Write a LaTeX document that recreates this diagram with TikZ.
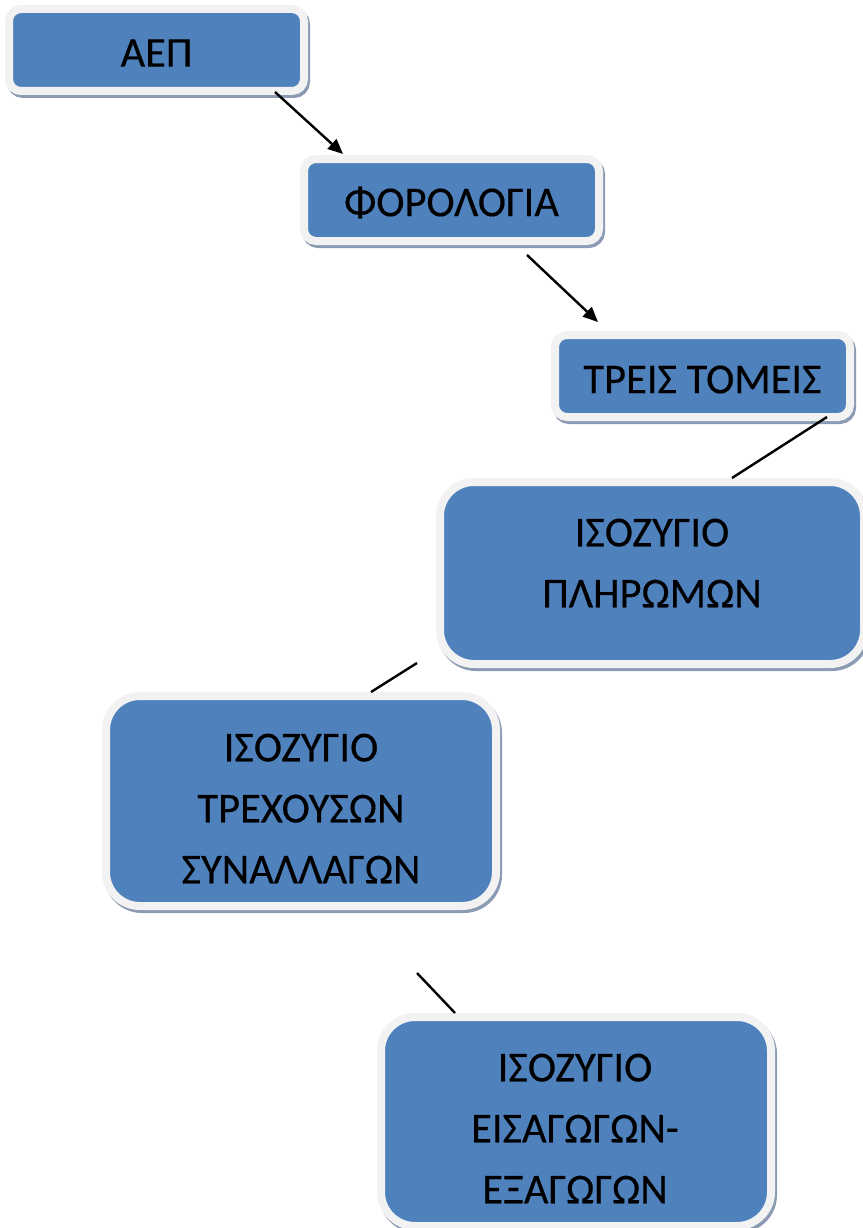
\documentclass[tikz,border=0pt]{standalone}
\usepackage{fontspec}
\setmainfont{Carlito}[FakeBold=0.35]
\usetikzlibrary{arrows.meta}
\definecolor{boxblue}{HTML}{4F81BD}
\definecolor{rimgray}{HTML}{F2F2F2}
\definecolor{shadowc}{HTML}{8C9BB4}
\tikzset{
  boxbase/.style={rectangle, draw=rimgray, fill=boxblue, line width=8pt, inner sep=0pt,
    preaction={draw=shadowc, fill=shadowc, transform canvas={shift={(2pt,-3pt)}}}},
  smallbox/.style={boxbase, rounded corners=12pt, minimum width=295pt, minimum height=82pt},
  bigbox/.style={boxbase, rounded corners=34pt},
  label/.style={font=\fontsize{42.5}{61}\selectfont, align=center, inner sep=0pt, text=black},
  conn/.style={line width=2.4pt, draw=black},
  arrowconn/.style={conn, -{Triangle[length=15pt,width=13pt]}}
}
\begin{document}
\begin{tikzpicture}[x=1pt,y=-1pt]
\useasboundingbox (0,0) rectangle (862,1228);
\fill[white] (0,0) rectangle (862,1228);
% boxes
\node[smallbox] (b1) at (156.5,50) {};
\node[smallbox] (b2) at (451.5,200) {};
\node[smallbox] (b3) at (702.5,376) {};
\node[bigbox, minimum width=424pt, minimum height=182pt] (b4) at (652,573) {};
\node[bigbox, minimum width=390pt, minimum height=210pt] (b5) at (301,801) {};
\node[bigbox, minimum width=390pt, minimum height=209pt] (b6) at (576,1121.5) {};
% texts
\node[label] (t1) at (156.5,53) {ΑΕΠ};
\node[label] (t2) at (451.5,202.5) {ΦΟΡΟΛΟΓΙΑ};
\node[label] (t3) at (702.5,379.5) {ΤΡΕΙΣ ΤΟΜΕΙΣ};
\node[label] (t4) at (652,563) {ΙΣΟΖΥΓΙΟ\\ΠΛΗΡΩΜΩΝ};
\node[label] (t5) at (301,808.5) {ΙΣΟΖΥΓΙΟ\\ΤΡΕΧΟΥΣΩΝ\\ΣΥΝΑΛΛΑΓΩΝ};
\node[label] (t6) at (575,1128.5) {ΙΣΟΖΥΓΙΟ\\ΕΙΣΑΓΩΓΩΝ-\\ΕΞΑΓΩΓΩΝ};
% connector end points
\coordinate (a1s) at (275,92);
\coordinate (a1e) at (343,154);
\coordinate (a2s) at (527,255);
\coordinate (a2e) at (598,322);
\coordinate (l3s) at (827,417);
\coordinate (l3e) at (732,478);
\coordinate (l4s) at (417,663);
\coordinate (l4e) at (371,692);
\coordinate (l5s) at (417,973);
\coordinate (l5e) at (455,1013);
\draw[arrowconn] (a1s) -- (a1e);
\draw[arrowconn] (a2s) -- (a2e);
\draw[conn] (l3s) -- (l3e);
\draw[conn] (l4s) -- (l4e);
\draw[conn] (l5s) -- (l5e);
\end{tikzpicture}
\end{document}
